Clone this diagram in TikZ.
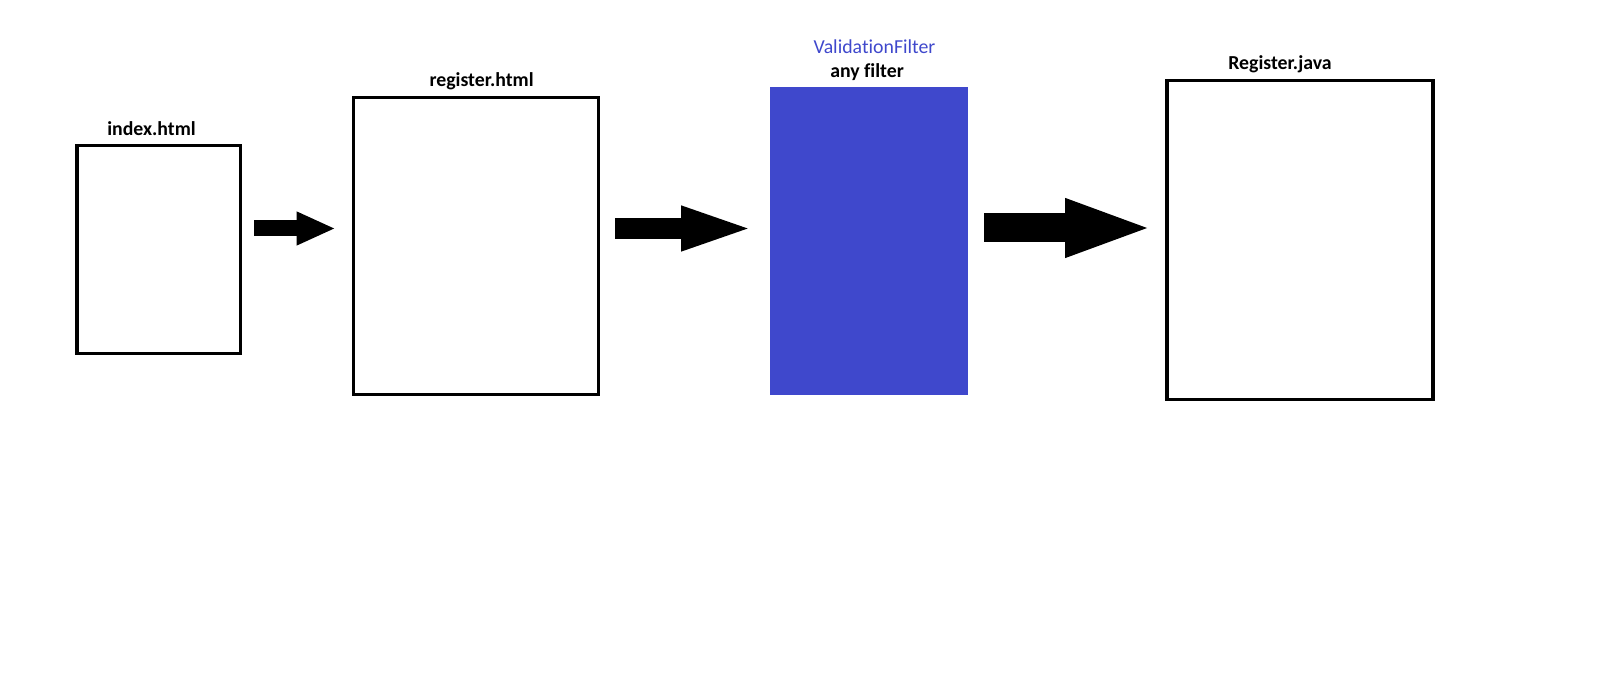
\documentclass[tikz,border=0pt]{standalone}
\usepackage{fontspec}
\setmainfont{Carlito}[Ligatures={NoCommon,NoContextual,NoRare}]
\usetikzlibrary{arrows.meta, positioning}
\definecolor{filterblue}{RGB}{63,72,204}

\begin{document}
\begin{tikzpicture}[x=0.5pt, y=-0.5pt,
    page/.style={draw, line width=1.6pt, inner sep=0pt, outer sep=0pt},
    lbl/.style={inner sep=0pt, text height=7pt, text depth=0pt,
                font=\bfseries\fontsize{9.9}{11}\selectfont},
    blockarrow/.style n args={3}{line width=#1, -{Triangle[length=#2, width=#3]}}]
    \useasboundingbox (0,0) rectangle (1600,683);

    % Pages
    \node[page, minimum width=81.6pt, minimum height=104pt] (index) at (158.5,249.5) {};
    \node[page, minimum width=122.4pt, minimum height=148.4pt] (register) at (476,246) {};
    \node[fill=filterblue, inner sep=0pt, outer sep=0pt,
          minimum width=99pt, minimum height=154pt] (filter) at (869,241) {};
    \node[page, minimum width=133pt, minimum height=159.5pt] (java) at (1300,240) {};

    % Labels
    \node[lbl, above=5pt of index, xshift=-3.5pt] (indexlbl) {index.html};
    \node[lbl, above=5.5pt of register, xshift=2.8pt] (registerlbl) {register.html};
    \node[lbl, above=4.5pt of filter, xshift=-1pt] (anylbl) {any filter};
    \node[lbl, above=4.8pt of anylbl, xshift=3.75pt, font=\fontsize{9.9}{11}\selectfont,
          text=filterblue] (filterlbl) {ValidationFilter};
    \node[lbl, above=5.5pt of java, xshift=-10pt] (javalbl) {Register.java};

    % Flow
    \draw[blockarrow={8pt}{19.5pt}{15.5pt}]
        ([shift={(14,-21)}]index.east) -- ([shift={(-18,-17.5)}]register.west);
    \draw[blockarrow={10.5pt}{38pt}{19.5pt}]
        ([shift={(17,-17.5)}]register.east) -- ([shift={(-13,-12.5)}]filter.west);
    \draw[blockarrow={14.5pt}{45pt}{26pt}]
        ([shift={(16,-13)}]filter.east) -- ([shift={(-12,-12)}]java.west);
\end{tikzpicture}
\end{document}
